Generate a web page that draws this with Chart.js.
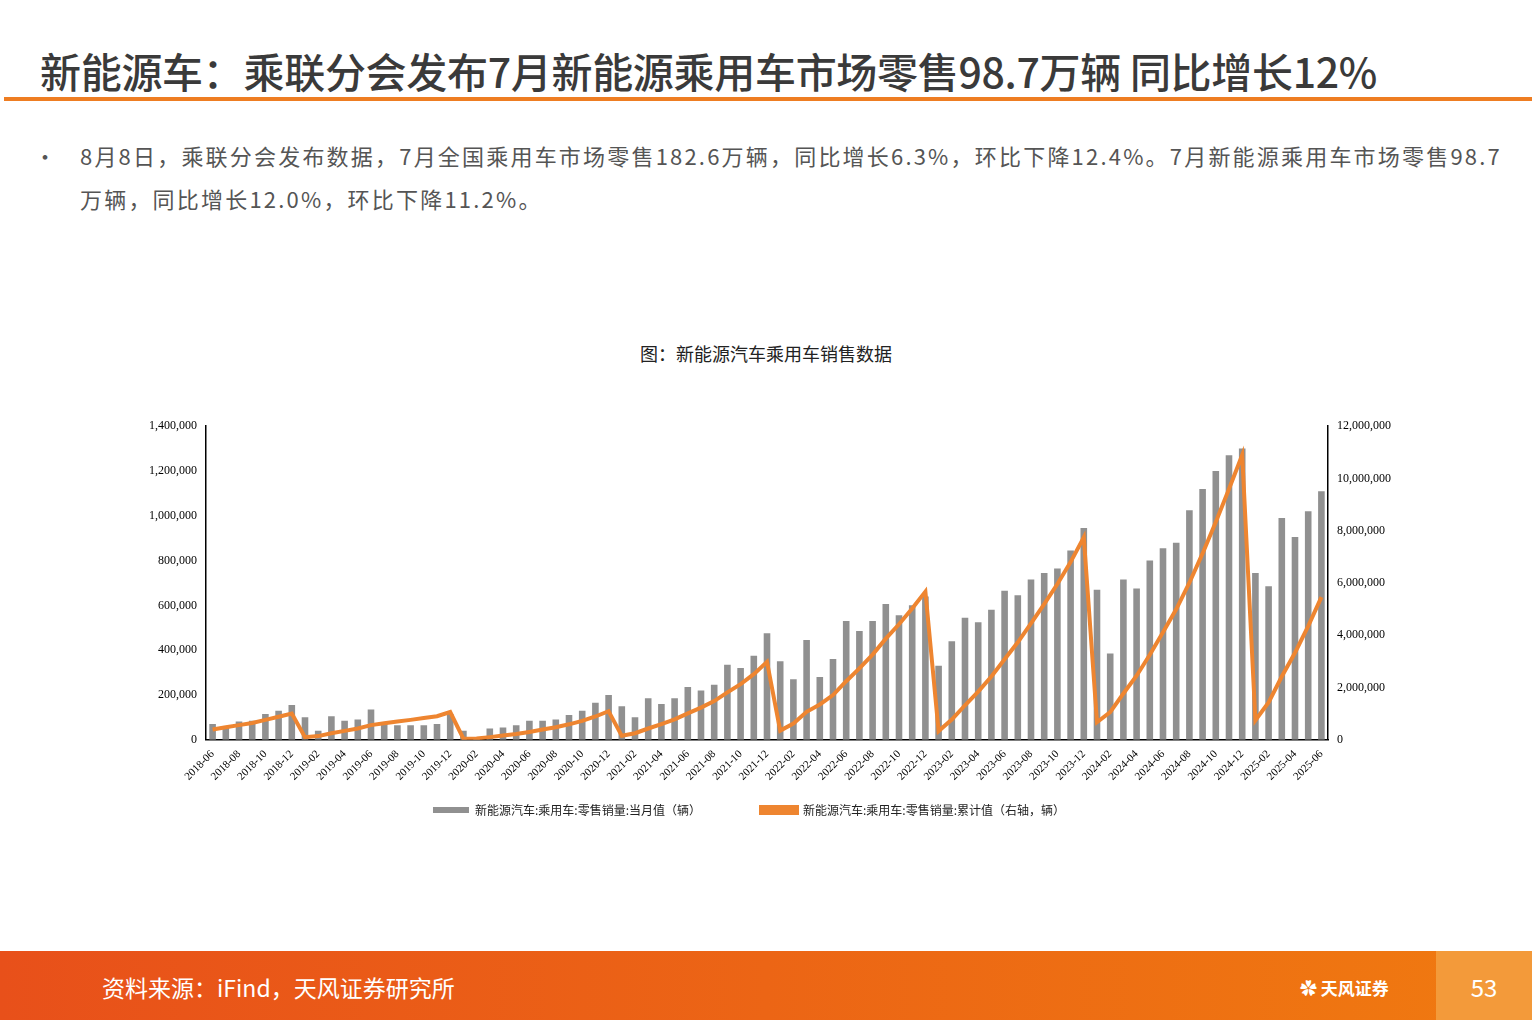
<!DOCTYPE html>
<html><head><meta charset="utf-8">
<script src="https://cdn.jsdelivr.net/npm/chart.js@4/dist/chart.umd.min.js"></script>
<style>
body{margin:0;width:1532px;height:1020px;position:relative;background:#fff;font-family:"Noto Sans CJK SC",sans-serif;overflow:hidden}
#t{position:absolute;left:40px;top:40px;font-size:41px;color:#3a3a3a;font-weight:500;letter-spacing:-0.3px}
#bar{position:absolute;left:4px;top:97px;width:1528px;height:4px;background:#ee7d22}
#b{position:absolute;left:80px;top:134px;width:1450px;font-size:22px;line-height:43px;color:#555;letter-spacing:2.2px}
#dot{position:absolute;left:34px;top:134px;font-size:22px;line-height:43px;color:#555}
#ct{position:absolute;left:0;width:1532px;top:340px;text-align:center;font-size:18px;color:#222}
#wrap{position:absolute;left:146px;top:416px;width:1248px;height:410px}
#foot{position:absolute;left:0;top:951px;width:1532px;height:69px;background:linear-gradient(90deg,#e8501a,#f07a10)}
#src{position:absolute;left:102px;top:970px;font-size:23px;color:#fff}
#logo{position:absolute;left:1300px;top:975px;font-size:17px;color:#fff;font-weight:bold}
#pg{position:absolute;left:1436px;top:951px;width:96px;height:69px;background:#f39a3a;color:#fff;font-size:24px;line-height:72px;text-align:center}
</style></head><body>
<div id="t">新能源车：乘联分会发布7月新能源乘用车市场零售98.7万辆 同比增长12%</div>
<div id="bar"></div>
<div id="dot">•</div>
<div id="b">8月8日，乘联分会发布数据，7月全国乘用车市场零售182.6万辆，同比增长6.3%，环比下降12.4%。7月新能源乘用车市场零售98.7<br>万辆，同比增长12.0%，环比下降11.2%。</div>
<div id="ct">图：新能源汽车乘用车销售数据</div>
<div id="wrap"><canvas id="c"></canvas></div>
<div id="foot"></div>
<div id="src">资料来源：iFind，天风证券研究所</div>
<div id="logo">✿ 天风证券</div>
<div id="pg">53</div>
<script>
const categories=[];
for(let y=2018;y<=2025;y++)for(let m=1;m<=12;m++){if((y===2018&&m<6)||(y===2025&&m>6))continue;categories.push(y+'-'+String(m).padStart(2,'0'));}
const monthly=[70000,60000,82000,85000,115000,130000,155000,
100000,40000,105000,85000,90000,135000,70000,65000,65000,65000,70000,115000,
40000,10000,50000,55000,65000,85000,85000,90000,110000,130000,165000,200000,
150000,100000,185000,160000,185000,235000,220000,245000,335000,320000,375000,475000,
350000,270000,445000,280000,360000,530000,485000,530000,606000,556000,601000,640000,
330000,440000,545000,525000,580000,665000,645000,715000,745000,765000,845000,945000,
670000,385000,715000,675000,800000,855000,880000,1025000,1120000,1200000,1270000,1300000,
745000,685000,990000,905000,1020000,1110000];
const cumulative=[390000,480000,560000,640000,760000,880000,1000000,
100000,140000,250000,340000,430000,560000,630000,700000,760000,830000,900000,1060000,
40000,50000,100000,160000,220000,300000,390000,480000,590000,720000,890000,1090000,
150000,250000,430000,600000,780000,1010000,1230000,1480000,1810000,2130000,2510000,2980000,
350000,620000,1070000,1350000,1710000,2240000,2730000,3260000,3870000,4420000,5020000,5670000,
330000,770000,1320000,1840000,2420000,3080000,3730000,4450000,5190000,5960000,6800000,7750000,
670000,1060000,1770000,2450000,3250000,4110000,4990000,6010000,7130000,8330000,9600000,10900000,
745000,1430000,2420000,3330000,4350000,5460000];
const tickFont={family:'"Liberation Serif",serif',size:12};
new Chart(document.getElementById('c'),{
data:{labels:categories,datasets:[
{type:'line',label:'新能源汽车:乘用车:零售销量:累计值（右轴，辆）',data:cumulative,yAxisID:'y2',borderColor:'#ee8530',backgroundColor:'#ee8530',borderWidth:4,pointRadius:0,tension:0,order:0},
{type:'bar',label:'新能源汽车:乘用车:零售销量:当月值（辆）',data:monthly,yAxisID:'y',backgroundColor:'#909090',barPercentage:0.5,categoryPercentage:1,order:1}
]},
options:{animation:false,responsive:true,maintainAspectRatio:false,
plugins:{legend:{position:'bottom',reverse:true,labels:{boxWidth:36,boxHeight:6,font:{family:'"Noto Sans CJK SC"',size:12},color:'#222',padding:18,generateLabels:function(ch){const l=Chart.defaults.plugins.legend.labels.generateLabels(ch);l.forEach(x=>x.text=x.text+'\u3000\u3000\u3000\u3000');return l;}}},tooltip:{enabled:false}},
scales:{
x:{grid:{display:false,tickLength:5},border:{color:'#000',width:1.5},ticks:{autoSkip:false,maxRotation:45,minRotation:45,font:{family:'"Liberation Serif",serif',size:11},color:'#000',callback:function(v,i){return i%2===0?categories[i]:'';}}},
y:{position:'left',min:0,max:1400000,ticks:{stepSize:200000,font:tickFont,color:'#000',callback:v=>v.toLocaleString('en-US')},grid:{display:false,tickLength:6},border:{color:'#000',width:1.5}},
y2:{position:'right',min:0,max:12000000,ticks:{stepSize:2000000,font:tickFont,color:'#000',callback:v=>v.toLocaleString('en-US')},grid:{display:false,tickLength:6},border:{color:'#000',width:1.5}}
}}});
</script>
</body></html>
